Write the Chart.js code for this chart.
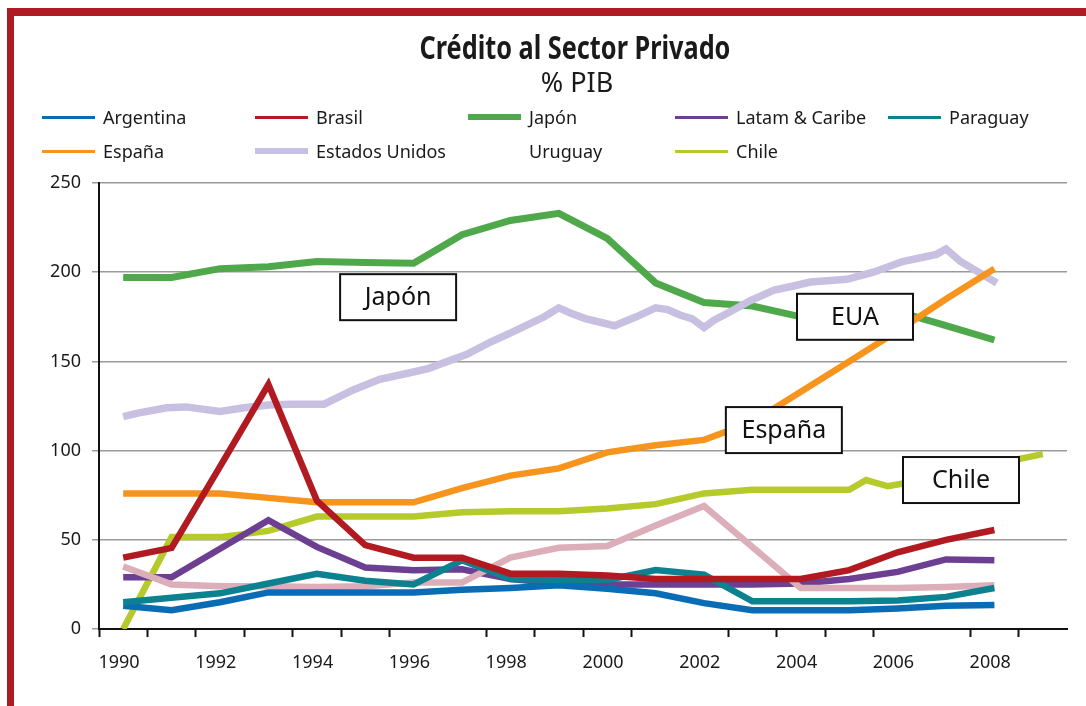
<!DOCTYPE html>
<html>
<head>
<meta charset="utf-8">
<script src="https://cdn.jsdelivr.net/npm/chart.js@4.4.1/dist/chart.umd.min.js"></script>
<style>
body { margin: 0; background: #fff; width: 1086px; height: 706px; overflow: hidden; position: relative; font-family: "Noto Sans", sans-serif; color: #1a1a1a; }
#frame { position: absolute; left: 7px; top: 8px; width: 1200px; height: 800px; border-left: 7px solid #ae1b22; border-top: 8px solid #ae1b22; box-sizing: border-box; }
#chart { position: absolute; left: 0; top: 0; }
#title { position: absolute; left: 325px; width: 500px; top: 25px; text-align: center; font: bold 32px "Noto Sans", sans-serif; transform: scaleX(0.79); transform-origin: 50% 50%; }
#subtitle { position: absolute; left: 427px; width: 300px; top: 63px; text-align: center; font: 27px "Noto Sans", sans-serif; }
.item { position: absolute; height: 24px; display: flex; align-items: center; font-size: 18px; white-space: nowrap; }
.item span.swatch { display: inline-block; width: 53px; margin-right: 8px; }
</style>
</head>
<body>
<div id="frame"></div>
<canvas id="chart" width="1086" height="706"></canvas>
<div id="title">Crédito al Sector Privado</div>
<div id="subtitle">% PIB</div>
<div id="legend"></div>
<script>
// annual values, % of GDP
const years = [1990, 1991, 1992, 1993, 1994, 1995, 1996, 1997, 1998, 1999, 2000, 2001, 2002, 2003, 2004, 2005, 2006, 2007, 2008];
const argentina = [13, 10.5, 15, 20.5, 20.5, 20.5, 20.5, 22, 23, 24.5, 22.5, 20, 14.5, 10.5, 10.5, 10.5, 11.5, 13, 13.5];
const brasil = [40, 45.5, 91, 137, 72, 47, 40, 40, 31, 31, 30, 28, 28, 28, 28, 33, 43, 50, 55.5];
const japon = [197, 197, 202, 203, 206, 205.5, 205, 221, 229, 233, 219, 194, 183, 181, 175, 176, 178, 170, 162];
const latam = [29, 29, 45, 61, 46, 34.5, 33, 33.5, 28, 25.5, 25, 25, 25, 25, 25.5, 28, 32, 39, 38.5];
const paraguay = [15, 17.5, 20, 25.5, 31, 27, 25, 38.5, 28, 27.5, 27.5, 33, 30.5, 15.5, 15.5, 15.5, 16, 18, 23];
const espana = [76, 76, 76, 73.5, 71, 71, 71, 79, 86, 90, 99, 103, 106, 116, 133, 150, 167, 185, 202];
const uruguay = [35, 25, 24, 24, 23.5, 24, 26, 26, 40, 45.5, 46.5, 58, 69, 46, 23, 23, 23, 23.5, 24.5];

// quarterly-ish series
const usYears = [1990, 1990.3, 1990.9, 1991.3, 1992, 1992.5, 1993, 1993.45, 1994.15, 1994.75, 1995.3, 1995.9, 1996.3, 1997.1, 1997.6, 1998.05, 1998.7, 1999, 1999.25, 1999.55, 2000.15, 2000.6, 2001, 2001.25, 2001.5, 2001.75, 2002, 2002.2, 2002.55, 2002.95, 2003.45, 2003.8, 2004.2, 2004.95, 2005.5, 2006.1, 2006.55, 2006.8, 2007, 2007.3, 2007.55, 2008.05];
const usValues = [119, 121, 124, 124.5, 122, 124, 125.5, 126, 126, 134, 140, 143.5, 146, 154, 161, 166.5, 175, 180, 177, 174, 170, 175, 180, 179, 176, 174, 169, 173, 178, 184, 190, 192, 194.5, 196, 200, 206, 208.5, 210, 213, 206, 202, 194];
const chileYears = [1990, 1991, 1992, 1993, 1994, 1995, 1996, 1997, 1998, 1999, 2000, 2001, 2002, 2003, 2004, 2005, 2005.35, 2005.8, 2006.2, 2007, 2008, 2009];
const chileValues = [0, 51.5, 51.5, 55, 63, 63, 63, 65.5, 66, 66, 67.5, 70, 76, 78, 78, 78, 83.5, 80, 82, 87, 92.5, 98];

const names = ["Argentina", "Brasil", "Japón", "Latam & Caribe", "Paraguay", "España", "Estados Unidos", "Uruguay", "Chile"];
const colors = ["#0a6cb4", "#b01a20", "#4fa94b", "#6d3f92", "#0c8290", "#f7941e", "#c8c0e0", "#dcaeb9", "#b6ca2b"];
const widths = [6.5, 6.5, 7, 6.5, 6.5, 6.5, 7.5, 6.5, 6.5];
const drawOrder = [4, 1, 9, 6, 3, 2, 8, 5, 7]; // lower = on top
const legendThick = [3, 3, 6, 3, 3, 3, 6, 0, 3];

const xLabels = ["1990", "1992", "1994", "1996", "1998", "2000", "2002", "2004", "2006", "2008"];
const hiddenTicks = [1996.5, 2001.5, 2006.5, 2009.5];

const noteText = ["Japón", "EUA", "España", "Chile"];
const noteYears = [1995.68, 2005.12, 2003.65, 2007.31];
const noteValues = [186, 175, 111.5, 83.5];

function pairs(xs, ys) {
    return xs.map((x, i) => ({ x: x, y: ys[i] }));
}

const seriesData = [
    pairs(years, argentina),
    pairs(years, brasil),
    pairs(years, japon),
    pairs(years, latam),
    pairs(years, paraguay),
    pairs(years, espana),
    pairs(usYears, usValues),
    pairs(years, uruguay),
    pairs(chileYears, chileValues)
];

const datasets = names.map((n, i) => ({
    label: n,
    data: seriesData[i],
    borderColor: colors[i],
    backgroundColor: colors[i],
    borderWidth: widths[i],
    order: drawOrder[i],
    pointRadius: 0,
    tension: 0,
    borderCapStyle: "butt",
    borderJoinStyle: "miter"
}));

// boxed callouts
const notesPlugin = {
    id: "notes",
    afterDatasetsDraw(chart) {
        const c = chart.ctx;
        const xs = chart.scales.x, ys = chart.scales.y;
        c.save();
        c.font = "25px 'Noto Sans'";
        c.textAlign = "center";
        c.textBaseline = "middle";
        noteText.forEach((t, i) => {
            const cx = xs.getPixelForValue(noteYears[i]);
            const cy = ys.getPixelForValue(noteValues[i]);
            c.fillStyle = "#fff";
            c.fillRect(cx - 58, cy - 23, 116, 46);
            c.strokeStyle = "#111";
            c.lineWidth = 2;
            c.strokeRect(cx - 58, cy - 23, 116, 46);
            c.fillStyle = "#111";
            c.fillText(t, cx, cy + 1);
        });
        c.restore();
    }
};

const tickFont = { family: "'Noto Sans'", size: 18 };

new Chart(document.getElementById("chart").getContext("2d"), {
    type: "line",
    data: { datasets: datasets },
    options: {
        responsive: false,
        animation: false,
        layout: { padding: { top: 183, right: 19, left: 0, bottom: 0 } },
        plugins: { legend: { display: false }, tooltip: { enabled: false } },
        scales: {
            x: {
                type: "linear",
                min: 1989.5,
                max: 2009.5,
                afterBuildTicks: function (s) {
                    const t = [];
                    for (let v = 1989.5; v <= 2009.5; v += 1) t.push({ value: v });
                    s.ticks = t;
                },
                afterFit: function (s) { s.height = 77; },
                ticks: {
                    autoSkip: false,
                    maxRotation: 0,
                    labelOffset: 20,
                    padding: 15,
                    color: "#1a1a1a",
                    font: tickFont,
                    callback: function (v) {
                        const y = String(v + 0.5);
                        return xLabels.includes(y) ? y : "";
                    }
                },
                grid: {
                    drawOnChartArea: false,
                    drawTicks: true,
                    tickLength: 8,
                    tickWidth: 2,
                    tickColor: ctx => (ctx.tick && hiddenTicks.includes(ctx.tick.value)) ? "rgba(0,0,0,0)" : "#111"
                },
                border: { color: "#111", width: 2 }
            },
            y: {
                min: 0,
                max: 250,
                afterFit: function (s) { s.width = 99; },
                ticks: { stepSize: 50, padding: 11, color: "#1a1a1a", font: tickFont },
                grid: { color: "#9a9a9a", lineWidth: 1.5, tickLength: 7 },
                border: { color: "#111", width: 2 }
            }
        }
    },
    plugins: [notesPlugin]
});

// legend, 5 per row
const legend = document.getElementById("legend");
const colX = [42, 255, 468, 675, 888];
const rowY = [105, 139];
names.forEach((n, i) => {
    const d = document.createElement("div");
    d.className = "item";
    d.style.left = colX[i % 5] + "px";
    d.style.top = rowY[Math.floor(i / 5)] + "px";
    const sw = document.createElement("span");
    sw.className = "swatch";
    sw.style.height = legendThick[i] + "px";
    sw.style.background = legendThick[i] ? colors[i] : "transparent";
    d.appendChild(sw);
    d.appendChild(document.createTextNode(n));
    legend.appendChild(d);
});
</script>
</body>
</html>
